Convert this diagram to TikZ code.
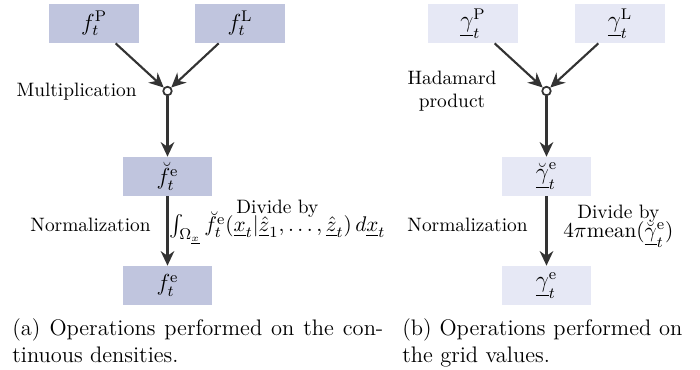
\documentclass[tikz,border=0pt]{standalone}
\usepackage{amsmath,amssymb,bm}
\usetikzlibrary{arrows.meta}
\definecolor{boxA}{RGB}{192,197,222}
\definecolor{boxB}{RGB}{230,232,245}
\definecolor{lineC}{RGB}{51,51,51}
\begin{document}
\begin{tikzpicture}[x=0.516pt,y=-0.516pt,
 boxa/.style={fill=boxA, minimum width=46.4pt, minimum height=20.1pt, inner sep=0pt, font=\large},
 boxb/.style={boxa, fill=boxB},
 arr/.style={draw=lineC, line width=1.1pt, -{Stealth[length=7.5pt,width=7pt]}},
 junc/.style={circle, draw=lineC, fill=white, line width=0.9pt, minimum size=4.4pt, inner sep=0pt},
 lbl/.style={inner sep=0pt, text=black},
 captext/.style={inner sep=0pt, text=black, font=\fontsize{11.6}{14}\selectfont}]
\useasboundingbox (0,0) rectangle (700,369);
% ---------- left panel
\node[boxa] (fP) at (94,23.5) {$f_t^{\mathrm{P}}$};
\node[boxa] (fL) at (240,23.5) {$f_t^{\mathrm{L}}$};
\node[junc] (cA) at (167.5,91) {};
\node[boxa] (fbe) at (167.5,176.5) {$\breve{f}_t^{\mathrm{e}}$};
\node[boxa] (fe) at (167.5,285.5) {$f_t^{\mathrm{e}}$};
\draw[arr] (fP) -- (cA);
\draw[arr] (fL) -- (cA);
\draw[arr] (cA) -- (fbe);
\draw[arr] (fbe) -- (fe);
\node[lbl, anchor=east] (mulA) at (137,92) {Multiplication};
\node[lbl, anchor=east] (normA) at (151,225) {Normalization};
\node[lbl, anchor=west, align=center] (divA) at (169,222) {Divide by\\[-4pt]{\fontsize{11}{13}\selectfont$\int_{\Omega_{\underline{x}}}\breve{f}_t^{\mathrm{e}}(\underline{x}_t|\underline{\hat{z}}_1,\dots,\underline{\hat{z}}_t)\,d\underline{x}_t$}};
% ---------- right panel
\node[boxb] (gP) at (473,23.5) {$\underline{\gamma}_t^{\mathrm{P}}$};
\node[boxb] (gL) at (620,23.5) {$\underline{\gamma}_t^{\mathrm{L}}$};
\node[junc] (cB) at (546.5,91) {};
\node[boxb] (gbe) at (546.5,176.5) {$\breve{\underline{\gamma}}_t^{\mathrm{e}}$};
\node[boxb] (ge) at (546.5,285.5) {$\underline{\gamma}_t^{\mathrm{e}}$};
\draw[arr] (gP) -- (cB);
\draw[arr] (gL) -- (cB);
\draw[arr] (cB) -- (gbe);
\draw[arr] (gbe) -- (ge);
\node[lbl, align=center] (hadB) at (452,91) {Hadamard\\product};
\node[lbl, anchor=east] (normB) at (528,225) {Normalization};
\node[lbl, anchor=west, align=center] (divB) at (563,226) {Divide by\\[-2pt]{\fontsize{11}{13}\selectfont$4\pi\mathrm{mean}(\breve{\underline{\gamma}}_t^{\mathrm{e}})$}};
% ---------- captions
\node[captext, anchor=north west, align=left] (capA) at (12,318) {\hbox to 191.4pt{(a) Operations performed on the con-}\\tinuous densities.};
\node[captext, anchor=north west, align=left] (capB) at (402,318) {\hbox to 144.5pt{(b) Operations performed on}\\the grid values.};
\end{tikzpicture}
\end{document}
